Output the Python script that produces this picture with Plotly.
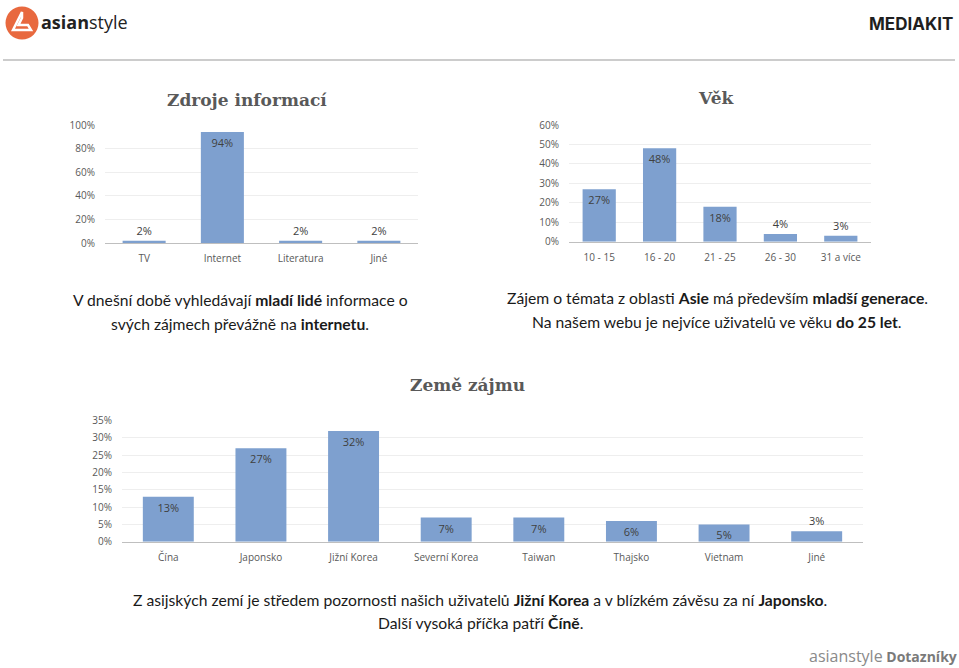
import plotly.graph_objects as go

W, H = 959, 668

# ---- data ----
src_cats = ["TV", "Internet", "Literatura", "Jiné"]
src_vals = [0.02, 0.94, 0.02, 0.02]
src_pos = ["outside", "inside", "outside", "outside"]

age_cats = ["10 - 15", "16 - 20", "21 - 25", "26 - 30", "31 a více"]
age_vals = [0.27, 0.48, 0.18, 0.04, 0.03]
age_pos = ["inside", "inside", "inside", "outside", "outside"]

cty_cats = ["Čína", "Japonsko", "Jižní Korea", "Severní Korea", "Taiwan", "Thajsko", "Vietnam", "Jiné"]
cty_vals = [0.13, 0.27, 0.32, 0.07, 0.07, 0.06, 0.05, 0.03]
cty_pos = ["inside"] * 7 + ["outside"]

BAR = "#7EA0CF"
LBL = "#404040"
TICK = "#595959"
FONT = "Open Sans"


def px(x):
    return x / W


def py(y):
    return 1 - y / H


fig = go.Figure()


def add_bars(cats, vals, pos, n):
    fig.add_trace(go.Bar(
        x=cats, y=vals, marker_color=BAR, marker_line_width=0,
        texttemplate="%{y:.0%}", textposition=pos, insidetextanchor="end",
        constraintext="none", cliponaxis=False,
        textfont=dict(family=FONT, size=11, color=LBL),
        insidetextfont=dict(family=FONT, size=11, color=LBL),
        outsidetextfont=dict(family=FONT, size=11, color=LBL),
        xaxis="x" if n == 1 else f"x{n}", yaxis="y" if n == 1 else f"y{n}",
        showlegend=False, hoverinfo="skip"))


add_bars(src_cats, src_vals, src_pos, 1)
add_bars(age_cats, age_vals, age_pos, 2)
add_bars(cty_cats, cty_vals, cty_pos, 3)


def xax(domain, anchor):
    return dict(domain=domain, anchor=anchor, showgrid=False, showline=True,
                linecolor="#BFBFBF", linewidth=1, ticks="", fixedrange=True,
                automargin=False,
                tickfont=dict(family=FONT, size=10, color=TICK),
                ticklabelstandoff=6)


def yax(domain, anchor, rng, dtick):
    return dict(domain=domain, anchor=anchor, range=rng, dtick=dtick,
                tickformat=".0%", showgrid=True, gridcolor="#EEEEEE",
                gridwidth=1, zeroline=False, showline=False, ticks="",
                automargin=False,
                tickfont=dict(family=FONT, size=10, color=TICK),
                ticklabelstandoff=9, fixedrange=True)


fig.update_layout(
    width=W, height=H, margin=dict(l=0, r=0, t=0, b=0, pad=0, autoexpand=False),
    paper_bgcolor="white", plot_bgcolor="white", bargap=0.45,
    xaxis=xax([px(105), px(418)], "y"),
    yaxis=yax([py(243), py(125)], "x", [0, 1], 0.2),
    xaxis2=xax([px(569), px(871)], "y2"),
    yaxis2=yax([py(241.7), py(125)], "x2", [0, 0.6], 0.1),
    xaxis3=xax([px(122), px(863)], "y3"),
    yaxis3=yax([py(541.7), py(420.7)], "x3", [0, 0.35], 0.05),
)

ann = []


def text(x, y, t, size, color="#222", family=FONT, xanchor="center"):
    ann.append(dict(x=px(x), y=py(y), xref="paper", yref="paper", text=t,
                    showarrow=False, xanchor=xanchor, yanchor="middle",
                    font=dict(family=family, size=size, color=color)))


SERIF = "DejaVu Serif"
text(247, 100, "<b>Zdroje informací</b>", 17, "#595959", SERIF)
text(716, 98, "<b>Věk</b>", 17, "#595959", SERIF)
text(467, 385, "<b>Země zájmu</b>", 17, "#595959", SERIF)

BODY = "Lato"
BS = 15.7
text(240, 300, "V dnešní době vyhledávají <b>mladí lidé</b> informace o", BS, "#1a1a1a", BODY)
text(240, 324, "svých zájmech převážně na <b>internetu</b>.", BS, "#1a1a1a", BODY)
text(717, 298, "Zájem o témata z oblasti <b>Asie</b> má především <b>mladší generace</b>.", BS, "#1a1a1a", BODY)
text(717, 322, "Na našem webu je nejvíce uživatelů ve věku <b>do 25 let</b>.", BS, "#1a1a1a", BODY)
text(480, 600, "Z asijských zemí je středem pozornosti našich uživatelů <b>Jižní Korea</b> a v blízkém závěsu za ní <b>Japonsko</b>.", BS, "#1a1a1a", BODY)
text(480, 623, "Další vysoká příčka patří <b>Číně</b>.", BS, "#1a1a1a", BODY)

# header / footer
text(39, 22, "<b>asian</b>style", 18, "#222222", "Open Sans", "left")
text(955, 24, "<b>MEDIAKIT</b>", 17, "#1f1f1f", "Inter", "right")
text(959, 656, "<span style='color:#8a8a8a;font-size:16px'>asianstyle</span> <b>Dotazníky</b>", 14, "#7a7a7a", "Open Sans", "right")

fig.update_layout(annotations=ann)

shapes = [
    dict(type="line", xref="paper", yref="paper", x0=px(3), x1=px(955),
         y0=py(60), y1=py(60), line=dict(color="#CCCCCC", width=2)),
    dict(type="circle", xref="paper", yref="paper", x0=px(5.5), x1=px(38.5),
         y0=py(39.5), y1=py(6.5), fillcolor="#E8693F", line_width=0),
    dict(type="path", xref="paper", yref="paper",
         path=f"M {px(22)} {py(12)} L {px(13)} {py(30)} L {px(31)} {py(30)} L {px(28)} {py(25)} "
              f"L {px(18.5)} {py(25)} L {px(22)} {py(18)} Z",
         fillcolor="rgba(0,0,0,0)", line=dict(color="white", width=2.5)),
]
fig.update_layout(shapes=shapes)

fig.write_html("out.html")
